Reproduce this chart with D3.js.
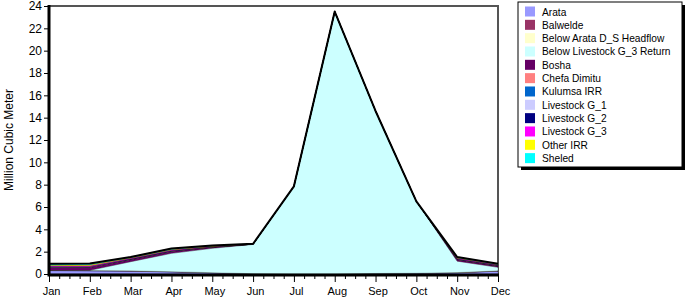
<!DOCTYPE html>
<html>
<head>
<meta charset="utf-8">
<script src="https://cdn.jsdelivr.net/npm/d3@7"></script>
<style>
  body { margin: 0; background: #fff; }
  svg { font-family: "Liberation Sans", Arial, sans-serif; }
  .axis text { font-size: 11px; fill: #000; }
  .axis path { display: none; }
  .axis line { stroke: #000; }
</style>
</head>
<body>
<svg id="chart" width="685" height="299"></svg>
<script>
const months = ['Jan', 'Feb', 'Mar', 'Apr', 'May', 'Jun', 'Jul', 'Aug', 'Sep', 'Oct', 'Nov', 'Dec'];

const seriesNames = ['Arata', 'Balwelde', 'Below Arata D_S Headflow', 'Below Livestock G_3 Return',
    'Bosha', 'Chefa Dimitu', 'Kulumsa IRR', 'Livestock G_1', 'Livestock G_2', 'Livestock G_3',
    'Other IRR', 'Sheled'];

const seriesColors = ['#9999ff', '#993366', '#ffffcc', '#ccffff', '#660066', '#ff8080',
    '#0066cc', '#ccccff', '#000080', '#ff00ff', '#ffff00', '#00ffff'];

// million cubic meter per month
const arata =          [0.30, 0.28, 0.25, 0.18, 0.10, 0.03, 0.01, 0.01, 0.05, 0.07, 0.10, 0.25];
const balwelde =       [0.02, 0.02, 0.02, 0.02, 0.01, 0.00, 0.00, 0.00, 0.00, 0.00, 0.02, 0.02];
const belowArata =     [0.01, 0.01, 0.01, 0.01, 0.01, 0.00, 0.00, 0.00, 0.00, 0.00, 0.01, 0.01];
const belowLivestock = [0.00, 0.02, 0.82, 1.64, 2.18, 2.62, 7.84, 23.49, 14.55, 6.43, 1.02, 0.32];
const bosha =          [0.24, 0.26, 0.18, 0.17, 0.10, 0.02, 0.00, 0.00, 0.00, 0.00, 0.13, 0.11];
const chefaDimitu =    [0.02, 0.02, 0.02, 0.02, 0.01, 0.00, 0.00, 0.00, 0.00, 0.00, 0.02, 0.02];
const kulumsa =        [0.02, 0.02, 0.02, 0.02, 0.01, 0.00, 0.00, 0.00, 0.00, 0.00, 0.02, 0.02];
const livestock1 =     [0.01, 0.01, 0.01, 0.01, 0.01, 0.00, 0.00, 0.00, 0.00, 0.00, 0.01, 0.01];
const livestock2 =     [0.02, 0.02, 0.02, 0.02, 0.01, 0.00, 0.00, 0.00, 0.00, 0.00, 0.02, 0.02];
const livestock3 =     [0.07, 0.07, 0.05, 0.05, 0.03, 0.01, 0.00, 0.00, 0.00, 0.00, 0.05, 0.04];
const otherIrr =       [0.08, 0.09, 0.05, 0.06, 0.04, 0.01, 0.00, 0.00, 0.00, 0.00, 0.05, 0.04];
const sheled =         [0.12, 0.13, 0.07, 0.08, 0.05, 0.01, 0.00, 0.00, 0.00, 0.00, 0.07, 0.06];

const seriesValues = [arata, balwelde, belowArata, belowLivestock, bosha, chefaDimitu,
    kulumsa, livestock1, livestock2, livestock3, otherIrr, sheled];

const yTicks = d3.range(0, 25, 2);

const svg = d3.select('#chart');
const plotLeft = 49, plotRight = 498, plotTop = 6, plotBottom = 274;

let rows = months.map((m, i) => {
    let r = { month: m, idx: i };
    seriesNames.forEach((s, k) => r[s] = seriesValues[k][i]);
    return r;
});

let xScale = d3.scaleLinear().domain([0, months.length - 1]).range([plotLeft, plotRight]);
let yScale = d3.scaleLinear().domain([0, 24]).range([plotBottom, plotTop]);
let color = d3.scaleOrdinal().domain(seriesNames).range(seriesColors);

let stacked = d3.stack().keys(seriesNames)(rows);

let area = d3.area()
    .x(d => xScale(d.data.idx))
    .y0(d => yScale(d[0]))
    .y1(d => yScale(d[1]));

// plot frame top / right
svg.append('path')
    .attr('d', `M${plotLeft},${plotTop}H${plotRight}V${plotBottom}`)
    .attr('fill', 'none')
    .attr('stroke', '#555')
    .attr('stroke-width', 2);

let seriesGroup = svg.append('g').classed('series-group', true);
seriesGroup.selectAll('path')
    .data(stacked)
    .enter()
    .append('path')
    .attr('d', area)
    .attr('fill', d => color(d.key))
    .attr('stroke', '#000')
    .attr('stroke-opacity', 0.35)
    .attr('stroke-width', 0.6);

// outline on top of the stack
let topLayer = stacked[stacked.length - 1];
svg.append('path')
    .datum(topLayer)
    .attr('d', d3.line().x(d => xScale(d.data.idx)).y(d => yScale(d[1])))
    .attr('fill', 'none')
    .attr('stroke', '#000')
    .attr('stroke-width', 2)
    .attr('stroke-linejoin', 'round');

// y axis
let yAxisGroup = svg.append('g')
    .classed('axis', true)
    .attr('transform', `translate(${plotLeft - 1},0)`)
    .call(d3.axisLeft(yScale).tickValues(yTicks).tickSize(4).tickPadding(2));
yAxisGroup.selectAll('text').style('font-size', '12px');

// minor x ticks
let minorTicks = d3.range(0, months.length - 1 + 0.01, 0.25).filter(t => t % 1 !== 0);
svg.append('g')
    .classed('axis', true)
    .attr('transform', `translate(0,${plotBottom + 1})`)
    .call(d3.axisBottom(xScale).tickValues(minorTicks).tickSize(4).tickFormat(''));

// major x ticks
let xAxisGroup = svg.append('g')
    .classed('axis', true)
    .attr('transform', `translate(0,${plotBottom + 1})`)
    .call(d3.axisBottom(xScale).tickValues(d3.range(months.length)).tickSize(7).tickPadding(5)
        .tickFormat(i => months[i]));
xAxisGroup.selectAll('text').attr('dx', 2);

// axis lines
svg.append('path')
    .attr('d', `M${plotLeft},${plotTop - 1}V${plotBottom + 1}H${plotRight + 1}`)
    .attr('fill', 'none')
    .attr('stroke', '#000')
    .attr('stroke-width', 3);

svg.append('text')
    .attr('transform', `translate(13,${(plotTop + plotBottom) / 2}) rotate(-90)`)
    .attr('text-anchor', 'middle')
    .style('font-size', '12px')
    .text('Million Cubic Meter');

// legend
let legend = svg.append('g').attr('transform', 'translate(518,2)');
legend.append('rect')
    .attr('x', 3).attr('y', 3)
    .attr('width', 164).attr('height', 165)
    .attr('fill', '#000');
legend.append('rect')
    .attr('x', 0).attr('y', 0)
    .attr('width', 164).attr('height', 165)
    .attr('fill', '#fff')
    .attr('stroke', '#000')
    .attr('stroke-width', 1);
let items = legend.selectAll('.item')
    .data(seriesNames)
    .enter()
    .append('g')
    .classed('item', true)
    .attr('transform', (d, i) => `translate(0,${9.5 + i * 13.33})`);
items.append('rect')
    .attr('x', 7).attr('y', -5)
    .attr('width', 10).attr('height', 10)
    .attr('fill', d => color(d));
items.append('text')
    .attr('x', 24).attr('y', 4)
    .style('font-size', '10.2px')
    .text(d => d);
</script>
</body>
</html>
